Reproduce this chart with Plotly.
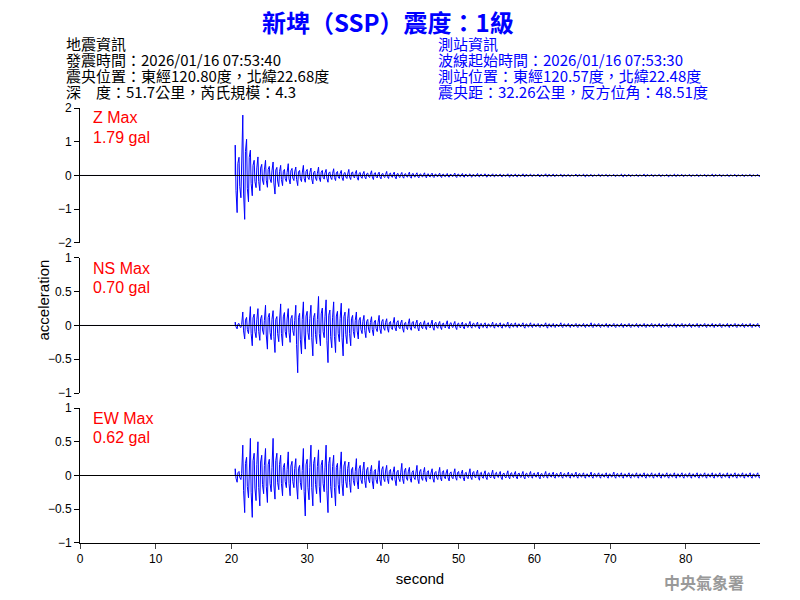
import numpy as np
import plotly.graph_objects as go

# Envelope peaks, one per second from t=20 s
t0 = 20
z_up = [0.9,1.79,0.75,0.55,0.45,0.4,0.3,0.35,0.25,0.3,0.22,0.25,0.18,0.2,0.15,0.18,0.15,0.12,0.14,0.1,
        0.12,0.1,0.09,0.1,0.08,0.08,0.07,0.07,0.06,0.07,0.06,0.05,0.06,0.05,0.05,0.04,0.05,0.04,0.05,0.04,
        0.04,0.05,0.04,0.04,0.03,0.04,0.04,0.03,0.04,0.03,0.03,0.04,0.03,0.03,0.04,0.03,0.03,0.03,0.04,0.03,
        0.03,0.03,0.03,0.04,0.03,0.03,0.03,0.03,0.03,0.03]
z_lo = [-1.1,-1.3,-0.6,-0.45,-0.35,-0.55,-0.3,-0.25,-0.3,-0.2,-0.25,-0.18,-0.2,-0.15,-0.15,-0.12,-0.14,-0.1,-0.12,-0.1,
        -0.09,-0.1,-0.08,-0.08,-0.07,-0.07,-0.06,-0.06,-0.05,-0.06,-0.05,-0.05,-0.04,-0.05,-0.04,-0.04,-0.05,-0.04,-0.04,-0.03,
        -0.04,-0.04,-0.03,-0.04,-0.03,-0.03,-0.04,-0.03,-0.03,-0.03,-0.03,-0.04,-0.03,-0.03,-0.03,-0.03,-0.03,-0.04,-0.03,-0.03,
        -0.03,-0.03,-0.03,-0.03,-0.03,-0.03,-0.03,-0.03,-0.03,-0.03]
ns_up = [0.05,0.2,0.28,0.25,0.3,0.22,0.32,0.25,0.3,0.35,0.3,0.43,0.38,0.35,0.33,0.25,0.2,0.15,0.13,0.15,
         0.1,0.12,0.08,0.1,0.08,0.07,0.08,0.06,0.07,0.06,0.05,0.06,0.05,0.04,0.05,0.04,0.05,0.04,0.04,0.04,
         0.03,0.04,0.03,0.04,0.03,0.03,0.03,0.04,0.03,0.03,0.03,0.03,0.03,0.03,0.03,0.03,0.03,0.03,0.03,0.03,
         0.03,0.03,0.03,0.03,0.03,0.03,0.03,0.03,0.03,0.03]
ns_lo = [-0.05,-0.2,-0.3,-0.22,-0.35,-0.4,-0.3,-0.25,-0.7,-0.35,-0.45,-0.3,-0.55,-0.4,-0.45,-0.3,-0.2,-0.18,-0.15,-0.12,
         -0.1,-0.08,-0.1,-0.07,-0.08,-0.06,-0.07,-0.06,-0.05,-0.06,-0.05,-0.04,-0.05,-0.04,-0.04,-0.04,-0.04,-0.03,-0.04,-0.03,
         -0.03,-0.04,-0.03,-0.03,-0.03,-0.03,-0.03,-0.03,-0.03,-0.03,-0.03,-0.03,-0.03,-0.03,-0.03,-0.03,-0.03,-0.03,-0.03,-0.03,
         -0.03,-0.03,-0.03,-0.03,-0.03,-0.03,-0.03,-0.03,-0.03,-0.03]
ew_up = [0.1,0.45,0.55,0.5,0.4,0.55,0.3,0.35,0.25,0.4,0.45,0.38,0.45,0.3,0.35,0.2,0.25,0.2,0.15,0.22,
         0.15,0.13,0.18,0.12,0.15,0.12,0.1,0.12,0.09,0.1,0.08,0.1,0.08,0.07,0.08,0.06,0.07,0.06,0.06,0.06,
         0.05,0.06,0.05,0.05,0.05,0.05,0.04,0.05,0.04,0.04,0.05,0.04,0.04,0.04,0.04,0.04,0.04,0.04,0.04,0.04,
         0.04,0.04,0.04,0.04,0.04,0.04,0.04,0.04,0.04,0.04]
ew_lo = [-0.1,-0.55,-0.62,-0.45,-0.4,-0.35,-0.3,-0.3,-0.35,-0.6,-0.45,-0.4,-0.55,-0.45,-0.3,-0.25,-0.2,-0.18,-0.2,-0.15,
         -0.12,-0.15,-0.12,-0.1,-0.12,-0.09,-0.1,-0.08,-0.08,-0.07,-0.08,-0.06,-0.07,-0.06,-0.05,-0.06,-0.05,-0.05,-0.05,-0.04,
         -0.05,-0.04,-0.04,-0.04,-0.04,-0.04,-0.04,-0.04,-0.04,-0.04,-0.04,-0.04,-0.04,-0.04,-0.04,-0.04,-0.04,-0.04,-0.04,-0.04,
         -0.04,-0.04,-0.04,-0.04,-0.04,-0.04,-0.04,-0.04,-0.04,-0.04]

channels = ["Z", "NS", "EW"]
max_labels = ["1.79 gal", "0.70 gal", "0.62 gal"]
y_ranges = [[-2, 2], [-1, 1], [-1, 1]]
y_ticks = [[-2, -1, 0, 1, 2], [-1, -0.5, 0, 0.5, 1], [-1, -0.5, 0, 0.5, 1]]
domains = [[0.6897, 1.0], [0.3448, 0.6552], [0.0, 0.3103]]
data = [(z_up, z_lo), (ns_up, ns_lo), (ew_up, ew_lo)]

fig = go.Figure()
for i, (up, lo) in enumerate(data):
    xs, ys = [0, t0 + 0.5], [0, 0]
    for k in range(len(up)):
        xs += [t0 + k + 0.5, t0 + k + 0.6, t0 + k + 0.75, t0 + k + 0.85, t0 + k + 1.0, t0 + k + 1.1, t0 + k + 1.25, t0 + k + 1.35]
        ys += [up[k], lo[k] * 0.4, lo[k], up[k] * 0.4, up[k] * 0.6, lo[k] * 0.3, lo[k] * 0.6, up[k] * 0.3]
    n = i + 1
    fig.add_trace(go.Scatter(x=xs, y=ys, mode="lines", line=dict(color="#0000ff", width=1),
                             xaxis=f"x{n if n>1 else ''}", yaxis=f"y{n if n>1 else ''}", showlegend=False))
    fig.add_trace(go.Scatter(x=[0, 89.8], y=[0, 0], mode="lines", line=dict(color="black", width=1),
                             xaxis=f"x{n if n>1 else ''}", yaxis=f"y{n if n>1 else ''}", showlegend=False))

ax_common = dict(range=[0, 89.8], showgrid=False, zeroline=False)
yc = dict(showgrid=False, zeroline=False, showline=True, linecolor="black", ticks="outside",
          ticklen=5, tickcolor="black", tickfont=dict(family="Arial", size=12, color="black"))
fig.update_layout(
    xaxis=dict(**ax_common, anchor="y", showticklabels=False),
    xaxis2=dict(**ax_common, anchor="y2", matches="x", showticklabels=False),
    xaxis3=dict(**ax_common, anchor="y3", matches="x", showline=True, linecolor="black", ticks="outside",
                ticklen=5, tickvals=[0, 10, 20, 30, 40, 50, 60, 70, 80],
                tickfont=dict(family="Arial", size=12, color="black"),
                title=dict(text="second", font=dict(family="Arial", size=15, color="black"), standoff=8)),
    yaxis=dict(**yc, domain=domains[0], range=y_ranges[0], tickvals=y_ticks[0]),
    yaxis2=dict(**yc, domain=domains[1], range=y_ranges[1], tickvals=y_ticks[1]),
    yaxis3=dict(**yc, domain=domains[2], range=y_ranges[2], tickvals=y_ticks[2]),
    width=800, height=600, margin=dict(l=72, r=48, t=100, b=65),
    plot_bgcolor="white", paper_bgcolor="white",
)

cjk = "Noto Sans CJK TC"
def px(xx): return (xx - 80) / 680
def py(yy): return (543 - yy) / 435
ann = []
ann.append(dict(text="<b>新埤（SSP）震度：1級</b>", x=px(388), y=py(21), xref="paper", yref="paper",
                xanchor="center", yanchor="middle", showarrow=False,
                font=dict(family=cjk, size=24, color="#0000ff")))
left = ["地震資訊", "發震時間：2026/01/16 07:53:40", "震央位置：東經120.80度，北緯22.68度", "深　度：51.7公里，芮氏規模：4.3"]
right = ["測站資訊", "波線起始時間：2026/01/16 07:53:30", "測站位置：東經120.57度，北緯22.48度", "震央距：32.26公里，反方位角：48.51度"]
for j, (l, r) in enumerate(zip(left, right)):
    yy = 43 + 16 * j
    for txt, xx, col in [(l, 64, "black"), (r, 436, "#0000ff")]:
        ann.append(dict(text=txt, x=px(xx), y=py(yy), xref="paper", yref="paper", showarrow=False,
                        xanchor="left", yanchor="middle", font=dict(family=cjk, size=15, color=col)))
for i, ch in enumerate(channels):
    top = 108 + 150 * i
    for txt, yy in [(f"{ch} Max", top + 10), (max_labels[i], top + 29)]:
        ann.append(dict(text=txt, x=px(91), y=py(yy), xref="paper", yref="paper",
                        xanchor="left", yanchor="middle", showarrow=False,
                        font=dict(family="Arial", size=16, color="red")))
ann.append(dict(text="acceleration", x=px(32), y=py(300), xref="paper", yref="paper",
                textangle=-90, showarrow=False, font=dict(family="Arial", size=15, color="black")))
ann.append(dict(text="<b>中央氣象署</b>", x=px(746), y=py(582), xref="paper", yref="paper",
                xanchor="right", yanchor="middle", showarrow=False,
                font=dict(family=cjk, size=16, color="#999999")))
fig.update_layout(annotations=ann)
fig.write_html("out.html")
